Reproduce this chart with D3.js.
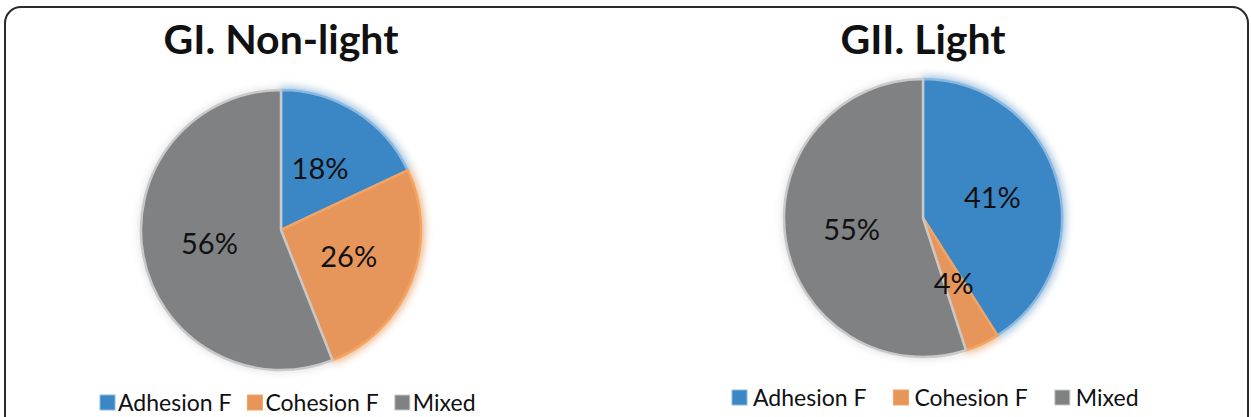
<!DOCTYPE html>
<html><head><meta charset="utf-8">
<script src="https://cdn.jsdelivr.net/npm/d3@7"></script>
<style>
html,body{margin:0;padding:0;background:#fff;}
svg{display:block;font-family:Lato,"Open Sans",sans-serif;}
</style></head>
<body>
<svg id="chart" width="1251" height="417"></svg>
<script>
const categories = ["Adhesion F", "Cohesion F", "Mixed"];
const titles = ["GI. Non-light", "GII. Light"];
const nonLightValues = [18, 26, 56];
const lightValues = [41, 4, 55];
const colors = ["#3b87c5", "#e6965b", "#808183"];
const strokeColors = ["#8ab9e2", "#f5a35f", "#c9c9c9"];

const svg = d3.select("#chart");

const defs = svg.append("defs");
const glow = defs.append("filter").attr("id","glow").attr("x","-30%").attr("y","-30%").attr("width","160%").attr("height","160%");
glow.append("feGaussianBlur").attr("stdDeviation", 4);

// frame
svg.append("rect").attr("x",5).attr("y",7).attr("width",1243).attr("height",430)
  .attr("rx",16).attr("fill","none").attr("stroke","#2a2a2a").attr("stroke-width",2);

const panels = [
  {title: titles[0], values: nonLightValues, cx: 281, cy: 230, r: 140, titleY: 54, legendX: 100, legendY: 411, textOff: 18, gap: 16},
  {title: titles[1], values: lightValues, cx: 923, cy: 218, r: 139, titleY: 54, legendX: 732, legendY: 406, textOff: 21, gap: 27}
];

const pie = d3.pie().sort(null).value(d => d.v);

panels.forEach(p => {
  const g = svg.append("g");
  g.append("text").attr("x", (p.cx)).attr("y", p.titleY).attr("text-anchor","middle")
    .attr("font-size", 41).attr("font-weight","bold").attr("fill","#111").text(p.title);

  const data = pie(p.values.map((v,i)=>({v, i, name: categories[i]})));
  const arc = d3.arc().innerRadius(0).outerRadius(p.r);
  const labelArc = d3.arc().innerRadius(p.r*0.52).outerRadius(p.r*0.52);
  const pg = g.append("g").attr("transform", `translate(${p.cx},${p.cy})`);

  pg.append("circle").attr("r", p.r+2).attr("fill","#bdbdbd").attr("opacity",0.45).attr("filter","url(#glow)");
  pg.selectAll("path.glow").data(data.filter(d=>d.data.i<2)).join("path").attr("class","glow")
    .attr("d", d3.arc().innerRadius(0).outerRadius(p.r+3))
    .attr("fill", d => strokeColors[d.data.i]).attr("opacity",0.75).attr("filter","url(#glow)");

  pg.selectAll("path.slice").data(data).join("path").attr("class","slice")
    .attr("d", arc).attr("fill", d => colors[d.data.i])
    .attr("stroke", d => strokeColors[d.data.i]).attr("stroke-width", 2.5).attr("stroke-linejoin","round");

  pg.selectAll("text").data(data).join("text")
    .attr("transform", d => `translate(${labelArc.centroid(d)})`)
    .attr("text-anchor","middle").attr("dy","0.36em")
    .attr("font-size", 29).attr("fill","#111")
    .text(d => d.data.v + "%");

  const lg = g.append("g").attr("transform", `translate(${p.legendX},${p.legendY})`);
  let x = 0;
  categories.forEach((c,i) => {
    lg.append("rect").attr("x", x).attr("y", -16).attr("width", 15).attr("height", 15)
      .attr("fill", colors[i]).attr("stroke", strokeColors[i]).attr("stroke-width",1);
    const t = lg.append("text").attr("x", x+p.textOff).attr("y", 0).attr("font-size", 23).attr("fill","#111").text(c);
    x += p.textOff + t.node().getComputedTextLength() + p.gap;
  });
});
</script>
</body></html>
